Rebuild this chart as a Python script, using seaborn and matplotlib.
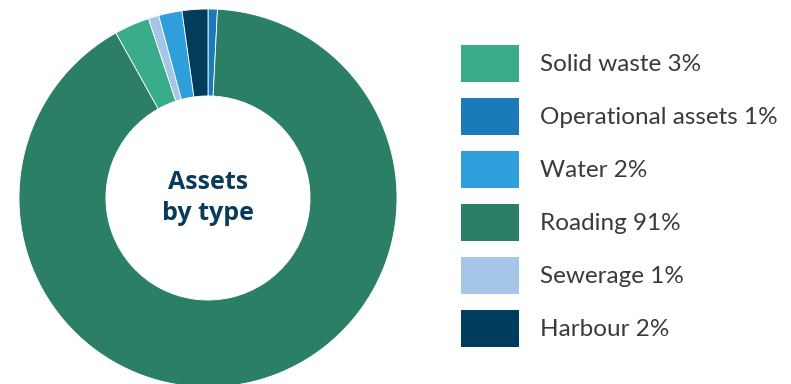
import matplotlib
matplotlib.use("Agg")
import matplotlib.pyplot as plt
import seaborn as sns

# slices in drawing order, clockwise from 12 o'clock
categories = ["Operational assets", "Roading", "Solid waste", "Sewerage", "Water", "Harbour"]
shares = [0.8, 91.1, 3.0, 0.9, 2.0, 2.2]
colors = ["#1a7aba", "#2a7f66", "#3aac8c", "#a5c6e6", "#2e9fdb", "#003d5c"]

# legend order and labels as printed
legend_order = ["Solid waste", "Operational assets", "Water", "Roading", "Sewerage", "Harbour"]
legend_labels = ["Solid waste 3%", "Operational assets 1%", "Water 2%",
                 "Roading 91%", "Sewerage 1%", "Harbour 2%"]

sns.set_theme(style="white")
plt.rcParams["font.family"] = ["Lato", "DejaVu Sans"]

fig = plt.figure(figsize=(7.91, 3.84), dpi=100)
ax = fig.add_axes([19 / 791, -3 / 384, 378 / 791, 378 / 384])

wedges, _ = ax.pie(shares, colors=colors, startangle=90, counterclock=False,
                   radius=1, wedgeprops=dict(width=0.46, edgecolor="white", linewidth=0.6))
ax.set_xlim(-1, 1)
ax.set_ylim(-1, 1)
ax.set_aspect("equal")
ax.axis("off")

ax.text(0, 0.0, "Assets\nby type", ha="center", va="center", fontsize=18,
        fontweight="bold", color="#0b3b5c", linespacing=1.3,
        family=["Open Sans", "DejaVu Sans"])

handles = [wedges[categories.index(c)] for c in legend_order]
leg = fig.legend(handles, legend_labels, loc="upper left",
                 bbox_to_anchor=(461 / 791, 1 - 45 / 384), frameon=False,
                 fontsize=17.5, handlelength=2.39, handleheight=1.966,
                 labelspacing=0.658, handletextpad=0.86, borderpad=0, borderaxespad=0)
for t in leg.get_texts():
    t.set_color("#3a3a3a")
for h in leg.legend_handles:
    h.set_edgecolor("none")

fig.savefig("out.png", dpi=100)
